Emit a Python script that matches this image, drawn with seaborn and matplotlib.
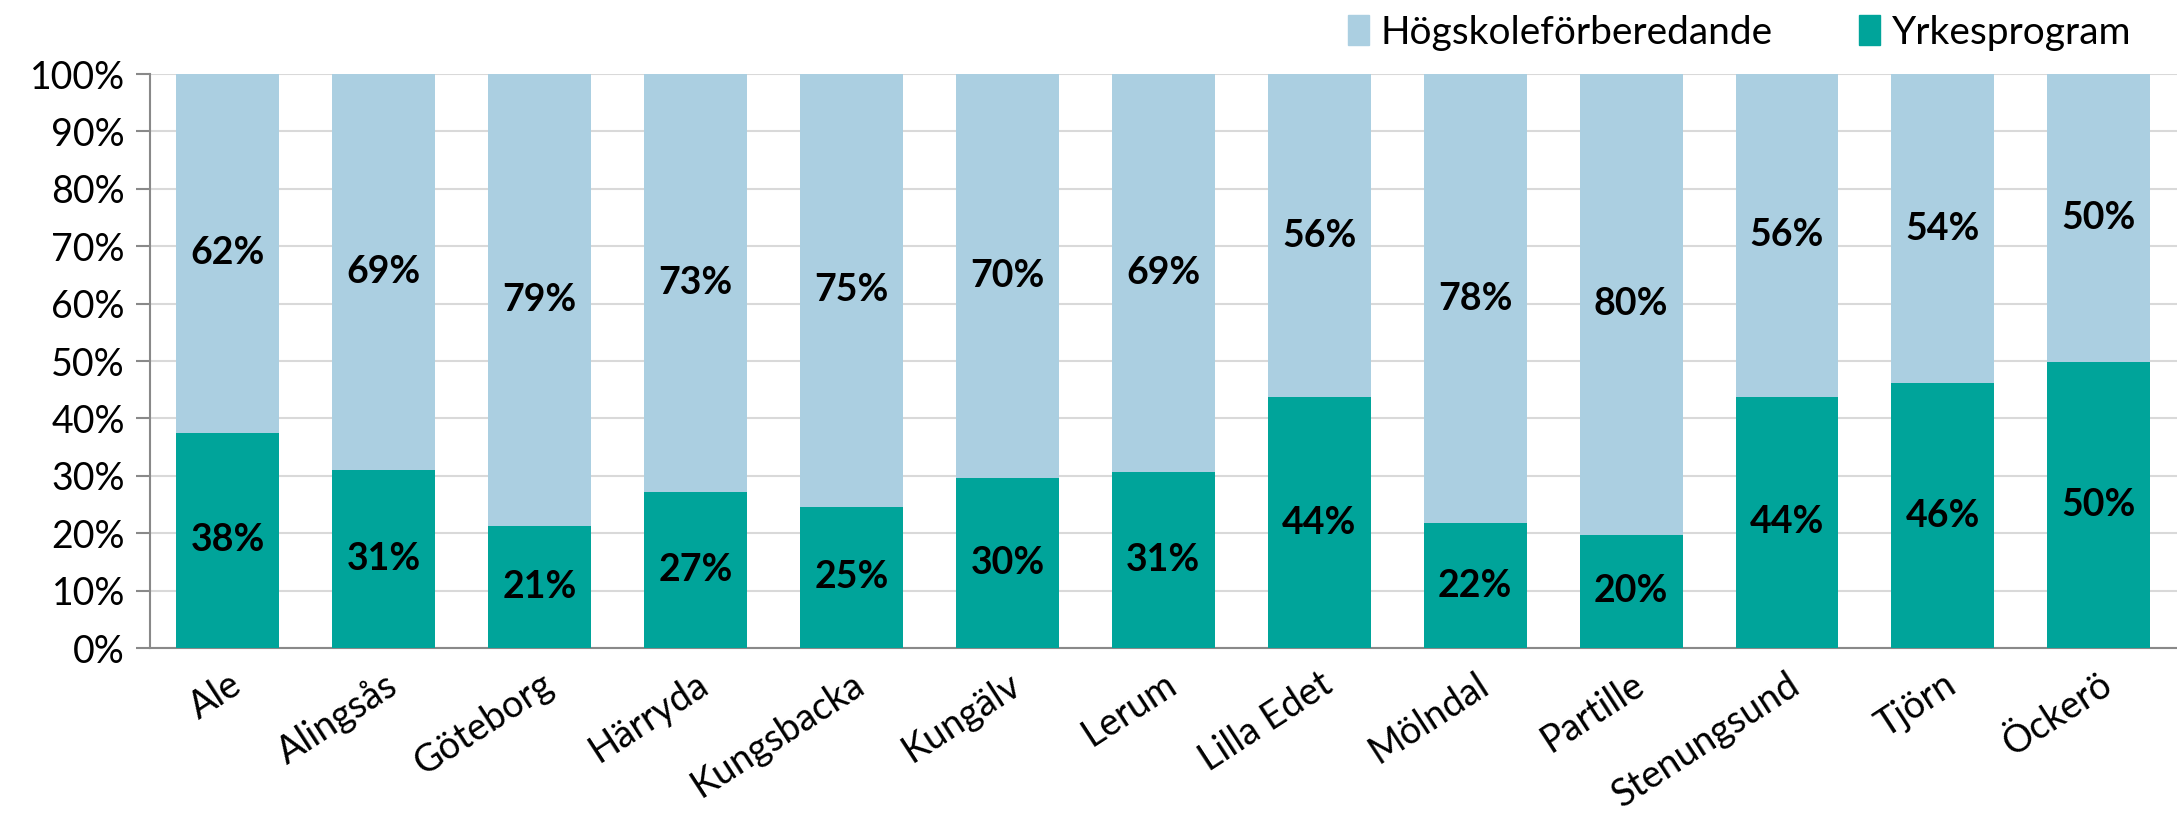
import numpy as np
import pandas as pd
import matplotlib
matplotlib.use("Agg")
import matplotlib.pyplot as plt
import seaborn as sns
from matplotlib.patches import Patch

# Kommuner och andel elever (%) på yrkesprogram / högskoleförberedande
kommuner = ["Ale", "Alingsås", "Göteborg", "Härryda", "Kungsbacka", "Kungälv",
            "Lerum", "Lilla Edet", "Mölndal", "Partille", "Stenungsund", "Tjörn", "Öckerö"]
yrkes = [37.5, 31.0, 21.3, 27.2, 24.6, 29.6, 30.6, 43.7, 21.7, 19.7, 43.8, 46.1, 49.9]
hogskole = [62.5, 69.0, 78.7, 72.8, 75.4, 70.4, 69.4, 56.3, 78.3, 80.3, 56.2, 53.9, 50.1]

light_blue = "#abcfe1"
teal = "#00a49a"
axis_grey = "#898989"

df = pd.DataFrame({"kommun": kommuner, "yrkes": yrkes, "hogskole": hogskole})
df["total"] = df["yrkes"] + df["hogskole"]

sns.set_theme(style="white")
plt.rcParams["font.family"] = ["Lato", "DejaVu Sans"]
plt.rcParams["text.color"] = "black"

fig = plt.figure(figsize=(21.77, 8.18), dpi=100)
ax = fig.add_axes([0.0689, 0.2078, 0.931, 0.7017])

# staplade staplar: totalen i ljusblått, yrkesprogram ovanpå i teal
sns.barplot(data=df, x="kommun", y="total", color=light_blue, saturation=1,
            width=0.66, linewidth=0, ax=ax, zorder=2)
sns.barplot(data=df, x="kommun", y="yrkes", color=teal, saturation=1,
            width=0.66, linewidth=0, ax=ax, zorder=3)

# etiketter mitt i varje segment
for i, row in df.iterrows():
    ax.text(i, row["yrkes"] / 2, f"{np.round(row['yrkes']):.0f}%",
            ha="center", va="center", fontsize=27, fontweight="bold", zorder=4)
    ax.text(i, row["yrkes"] + row["hogskole"] / 2, f"{np.round(row['hogskole']):.0f}%",
            ha="center", va="center", fontsize=27, fontweight="bold", zorder=4)

ax.set_ylim(0, 100)
ax.set_xlim(-0.5, len(kommuner) - 0.5)
ax.set_yticks(np.arange(0, 101, 10))
ax.set_yticklabels([f"{v}%" for v in range(0, 101, 10)], fontsize=27)
ax.yaxis.grid(True, color="#d9d9d9", linewidth=1.5, zorder=0)
ax.set_axisbelow(True)

ax.set_xlabel("")
ax.set_ylabel("")
ax.set_xticks(range(len(kommuner)))
ax.set_xticklabels(kommuner, fontsize=27, rotation=33, ha="right",
                   rotation_mode="anchor")
ax.set_xticks(np.arange(-0.5, len(kommuner)), minor=True)
ax.tick_params(axis="x", which="major", length=0, pad=13, labelcolor="black")
ax.tick_params(axis="x", which="minor", length=10, width=1.5, color=axis_grey)
ax.tick_params(axis="y", length=10, width=1.5, color=axis_grey, pad=8, left=True,
               labelcolor="black")

for s in ["top", "right"]:
    ax.spines[s].set_visible(False)
for s in ["left", "bottom"]:
    ax.spines[s].set_color(axis_grey)
    ax.spines[s].set_linewidth(1.5)

handles = [Patch(color=light_blue, label="Högskoleförberedande"),
           Patch(color=teal, label="Yrkesprogram")]
fig.legend(handles=handles, loc="upper right", bbox_to_anchor=(0.995, 1.025),
           ncol=2, frameon=False, fontsize=28, handlelength=0.55, handleheight=0.8,
           handletextpad=0.3, columnspacing=2.2)

fig.savefig("out.png", dpi=100)
